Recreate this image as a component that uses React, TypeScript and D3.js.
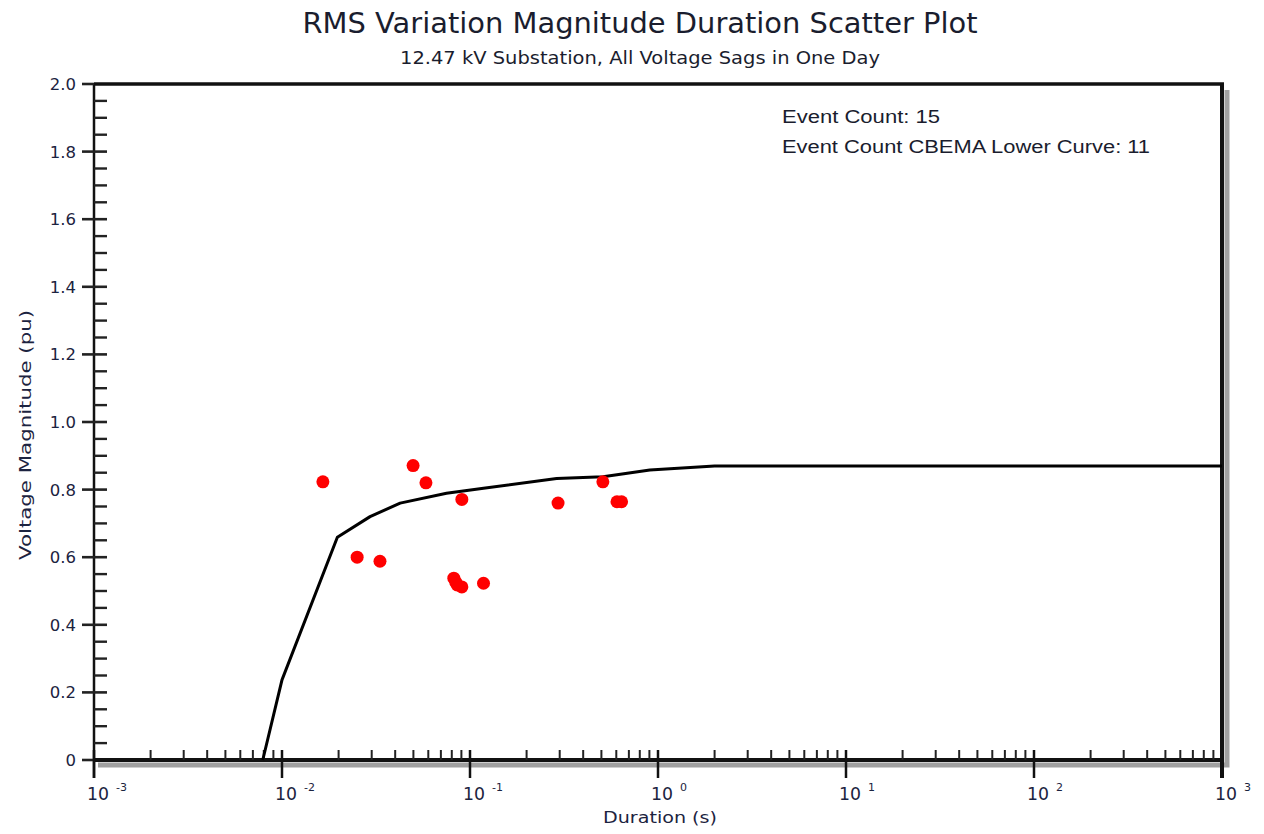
import React from "react";
import * as d3 from "d3";

const titleText = "RMS Variation Magnitude Duration Scatter Plot";
const subtitleText = "12.47 kV Substation, All Voltage Sags in One Day";
const xLabel = "Duration (s)";
const yLabel = "Voltage Magnitude (pu)";
const legendLines = ["Event Count: 15", "Event Count CBEMA Lower Curve: 11"];

const eventDurations = [0.0165, 0.0498, 0.0583, 0.0905, 0.294, 0.509, 0.605, 0.64, 0.0251, 0.0332, 0.082, 0.084, 0.0855, 0.0905, 0.118];
const eventMagnitudes = [0.823, 0.871, 0.82, 0.771, 0.76, 0.823, 0.764, 0.764, 0.6, 0.588, 0.538, 0.526, 0.518, 0.512, 0.523];

const curveDurations = [0.0079, 0.01, 0.0197, 0.0294, 0.0425, 0.075, 0.118, 0.289, 0.51, 0.905, 2.0, 1000];
const curveMagnitudes = [0, 0.237, 0.659, 0.72, 0.76, 0.789, 0.804, 0.833, 0.838, 0.858, 0.87, 0.87];

const xDecades = [-3, -2, -1, 0, 1, 2, 3];
const yMajorTicks = [0, 0.2, 0.4, 0.6, 0.8, 1.0, 1.2, 1.4, 1.6, 1.8, 2.0];

export default function App() {
  const W = 1264, H = 834;
  const left = 94, right = 1222, top = 84, bottom = 760;
  const x = d3.scaleLog().domain([1e-3, 1e3]).range([left, right]);
  const y = d3.scaleLinear().domain([0, 2]).range([bottom, top]);

  const minorX: number[] = [];
  for (let e = -3; e < 3; e++) {
    for (let m = 2; m <= 9; m++) minorX.push(m * Math.pow(10, e));
  }
  const minorY = d3.range(0, 41).map((i) => i * 0.05).filter((v) => Math.abs(Math.round(v * 5) - v * 5) > 1e-6);

  const line = d3
    .line<number>()
    .x((_, i) => x(curveDurations[i]))
    .y((d) => y(d));

  const textColor = "#1c2340";
  const font = "'DejaVu Sans', Verdana, sans-serif";

  return (
    <svg width={W} height={H} style={{ position: "absolute", left: 0, top: 0, background: "#fff" }}>
      <rect x={0} y={0} width={W} height={H} fill="#fff" />
      {/* titles */}
      <text x={640} y={33} textAnchor="middle" fontFamily={font} fontSize={29} fill="#1a1d2e" textLength={675} lengthAdjust="spacingAndGlyphs">
        {titleText}
      </text>
      <text x={640} y={64} textAnchor="middle" fontFamily={font} fontSize={18} fill="#1a1d2e" textLength={480} lengthAdjust="spacingAndGlyphs">
        {subtitleText}
      </text>

      {/* frame shadow */}
      <path d={`M${right + 5},${top + 6} V${bottom + 5} H${left + 4}`} fill="none" stroke="#a0a0a0" strokeWidth={5} />
      {/* frame */}
      <line x1={left} x2={right + 2} y1={top} y2={top} stroke="#111" strokeWidth={3.5} />
      <line x1={right} x2={right} y1={top} y2={bottom + 18} stroke="#111" strokeWidth={4} />
      <line x1={left} x2={right + 2} y1={bottom} y2={bottom} stroke="#111" strokeWidth={4} />
      <line x1={left} x2={left} y1={top} y2={bottom + 18} stroke="#111" strokeWidth={2.5} />

      {/* y ticks */}
      {minorY.map((v, i) => (
        <line key={"ym" + i} x1={left} x2={left + 13} y1={y(v)} y2={y(v)} stroke="#222" strokeWidth={2.4} />
      ))}
      {yMajorTicks.map((v, i) => (
        <g key={"yM" + i}>
          <line x1={left - 12} x2={v === 2 || v === 0 ? left : left + 13} y1={y(v)} y2={y(v)} stroke="#222" strokeWidth={2.6} />
          <text x={76} y={y(v) + 6} textAnchor="end" fontFamily={font} fontSize={16.5} fill={textColor}>
            {v === 0 ? "0" : v.toFixed(1)}
          </text>
        </g>
      ))}

      {/* x ticks */}
      {minorX.map((v, i) => (
        <line key={"xm" + i} x1={x(v)} x2={x(v)} y1={bottom} y2={bottom - 10} stroke="#222" strokeWidth={2} />
      ))}
      {xDecades.map((e, i) => {
        const px = x(Math.pow(10, e));
        return (
          <g key={"xM" + i}>
            <line x1={px} x2={px} y1={bottom - 10} y2={bottom + 18} stroke="#111" strokeWidth={2.5} />
            <text x={px - 7} y={800} fontFamily={font} fontSize={17} fill={textColor} textLength={22} lengthAdjust="spacingAndGlyphs">
              10
            </text>
            <text x={px + 22} y={791} fontFamily={font} fontSize={11} fill={textColor}>
              {e < 0 ? "-" + Math.abs(e) : String(e)}
            </text>
          </g>
        );
      })}

      {/* axis labels */}
      <text x={660} y={823} textAnchor="middle" fontFamily={font} fontSize={16.5} fill={textColor} textLength={114} lengthAdjust="spacingAndGlyphs">
        {xLabel}
      </text>
      <text transform={`translate(31,435) rotate(-90)`} textAnchor="middle" fontFamily={font} fontSize={16} fill={textColor} textLength={250} lengthAdjust="spacingAndGlyphs">
        {yLabel}
      </text>

      {/* legend text */}
      <text x={782} y={123} fontFamily="'Liberation Sans', Arial, sans-serif" fontSize={17.5} fill="#1a1d2e" textLength={158} lengthAdjust="spacingAndGlyphs">
        {legendLines[0]}
      </text>
      <text x={782} y={153} fontFamily="'Liberation Sans', Arial, sans-serif" fontSize={17.5} fill="#1a1d2e" textLength={368} lengthAdjust="spacingAndGlyphs">
        {legendLines[1]}
      </text>

      {/* CBEMA lower curve */}
      <path d={line(curveMagnitudes) || ""} fill="none" stroke="#000" strokeWidth={3} strokeLinejoin="round" />

      {/* events */}
      {eventDurations.map((d, i) => (
        <circle key={"e" + i} cx={x(d)} cy={y(eventMagnitudes[i])} r={6.5} fill="#ff0000" />
      ))}
    </svg>
  );
}
